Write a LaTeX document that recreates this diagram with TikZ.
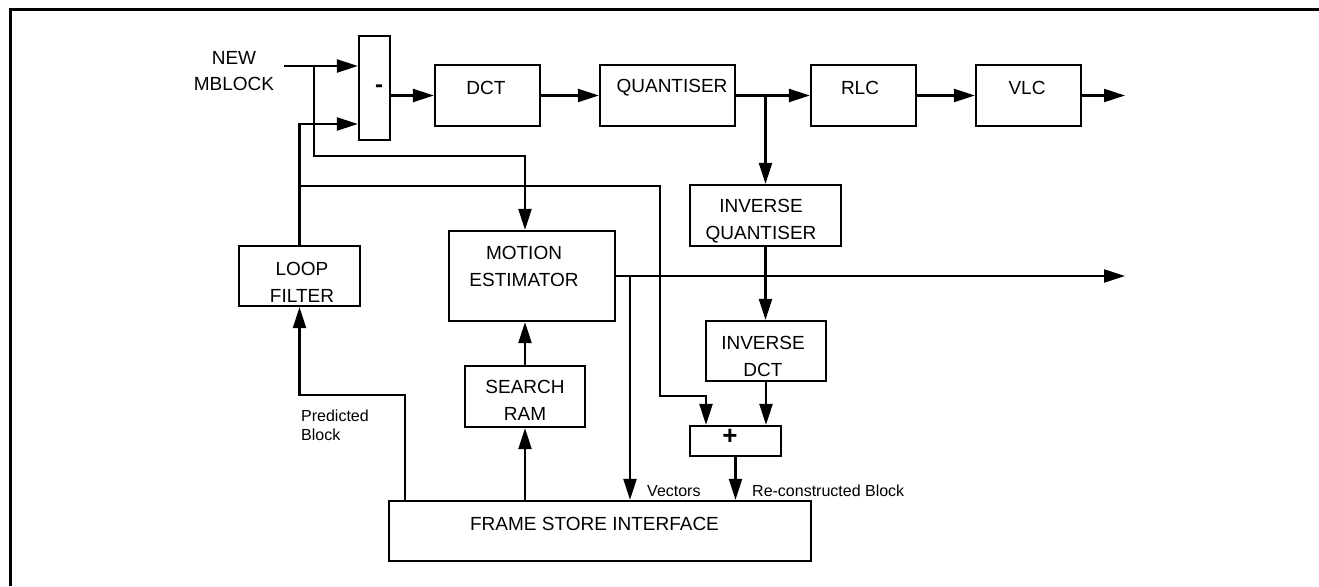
\documentclass[tikz,border=0pt]{standalone}
\usepackage{fontspec}
\setmainfont{Liberation Sans}
\usetikzlibrary{arrows.meta}
\begin{document}
\begin{tikzpicture}[x=1pt,y=-1pt,
  blk/.style={draw, line width=2.2pt, inner sep=0pt},
  lbl/.style={font=\fontsize{19}{27}\selectfont, align=center, inner sep=0pt},
  sml/.style={font=\fontsize{16}{19}\selectfont, align=left, inner sep=0pt, anchor=west},
  conn/.style={line width=2.2pt},
  arr/.style={conn, -{Triangle[length=21pt,width=13pt]}},
  frame/.style={line width=3pt}]
\useasboundingbox (0,0) rectangle (1319,586);
% outer frame
\coordinate (fbl) at (10,586);
\coordinate (ftl) at (10,10);
\coordinate (ftr) at (1319,10);
\draw[frame] (fbl) -- (ftl) -- (ftr);
% boxes
\node[blk, minimum width=31pt, minimum height=104pt] (minus) at (374.5,88) {};
\node[blk, minimum width=105pt, minimum height=61pt] (dct) at (487.5,95.5) {};
\node[blk, minimum width=135pt, minimum height=61pt] (quant) at (667.5,95.5) {};
\node[blk, minimum width=105pt, minimum height=61pt] (rlc) at (863.5,95.5) {};
\node[blk, minimum width=105pt, minimum height=61pt] (vlc) at (1028.5,95.5) {};
\node[blk, minimum width=151pt, minimum height=61pt] (iq) at (765.5,215.5) {};
\node[blk, minimum width=120pt, minimum height=60pt] (idct) at (766,351) {};
\node[blk, minimum width=91pt, minimum height=30pt] (plus) at (735.5,441) {};
\node[blk, minimum width=166pt, minimum height=90pt] (me) at (532,276) {};
\node[blk, minimum width=120pt, minimum height=61pt] (sram) at (525,396.5) {};
\node[blk, minimum width=121pt, minimum height=60pt] (lf) at (299.5,276) {};
\node[blk, minimum width=422pt, minimum height=60pt] (fsi) at (600,531) {};
% box texts
\node[inner sep=0pt, font=\fontsize{24}{24}\bfseries] (minustxt) at (379,89) {-};
\node[lbl] (dcttxt) at (486,88) {DCT};
\node[lbl] (quanttxt) at (672,88) {QUANTISER};
\node[lbl] (rlctxt) at (860,88) {RLC};
\node[lbl] (vlctxt) at (1027,88) {VLC};
\node[lbl] (iqtxt) at (761,221.5) {INVERSE\\QUANTISER};
\node[lbl] (idcttxt) at (763,356.5) {INVERSE\\DCT};
\node[inner sep=0pt, font=\fontsize{26}{26}\bfseries] (plustxt) at (730,437) {+};
\node[lbl] (metxt) at (524,266.5) {MOTION\\ESTIMATOR};
\node[lbl] (sramtxt) at (525,400) {SEARCH\\RAM};
\node[lbl] (lftxt) at (302,282) {LOOP\\FILTER};
\node[lbl] (fsitxt) at (594.5,524) {FRAME STORE INTERFACE};
\node[lbl, font=\fontsize{19}{26}\selectfont] (newtxt) at (234,71) {NEW\\MBLOCK};
% small labels
\node[sml] (predtxt) at (301,425.5) {Predicted\\Block};
\node[sml] (vectxt) at (647,491) {Vectors};
\node[sml] (recontxt) at (752,491) {Re-constructed Block};
% junctions and free ends
\coordinate (in) at (284,66);
\coordinate (j1) at (314,66);
\coordinate (j1b) at (314,156);
\coordinate (j2) at (299,186);
\coordinate (j2b) at (660,186);
\coordinate (j2c) at (660,396);
\coordinate (j2d) at (706,396);
\coordinate (j3) at (765.5,95.5);
\coordinate (j4) at (630,276);
\coordinate (pb) at (405,501);
\coordinate (pbc) at (405,395);
\coordinate (out1) at (1125,95.5);
\coordinate (out2) at (1125,276);
% connectors
\draw[arr] (in) -- ([yshift=22pt]minus.west);
\draw[arr] (j1) -- (j1b) -| (sram.north |- me.north);
\draw[arr] (lf.north) -- (lf.north |- j2) -- ([yshift=-36pt]minus.west -| lf.north) -- ([yshift=-36pt]minus.west);
\draw[arr] (j2) -- (j2b) -- (j2c) -- (j2d) -- (j2d |- plus.north);
\draw[arr] (minus.east |- dct.west) -- (dct.west);
\draw[arr] (dct.east) -- (quant.west);
\draw[arr] (quant.east) -- (rlc.west);
\draw[arr] (rlc.east) -- (vlc.west);
\draw[arr] (vlc.east) -- (out1);
\draw[arr] (j3) -- (iq.north);
\draw[arr] (iq.south) -- (iq.south |- idct.north);
\draw[arr] (idct.south) -- (idct.south |- plus.north);
\draw[arr] (plus.south) -- (plus.south |- fsi.north);
\draw[arr] (me.east) -- (out2);
\draw[arr] (j4) -- (j4 |- fsi.north);
\draw[arr] (sram.south |- fsi.north) -- (sram.south);
\draw[arr] (sram.north) -- (sram.north |- me.south);
\draw[arr] (pb) -- (pbc) -| (lf.south);
\end{tikzpicture}
\end{document}
